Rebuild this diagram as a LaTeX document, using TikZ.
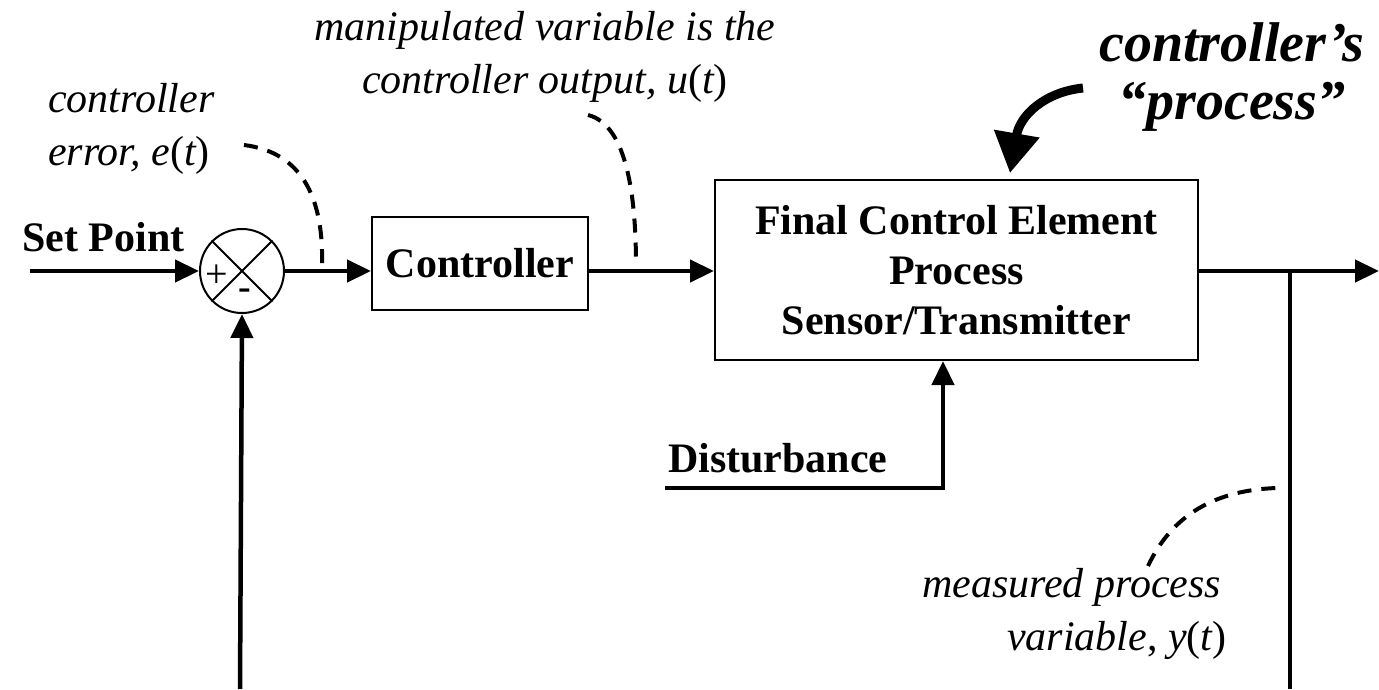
\documentclass[tikz,border=0pt]{standalone}
\usepackage{fontspec}
\setmainfont{Liberation Serif}
\usetikzlibrary{arrows.meta}
\begin{document}
\begin{tikzpicture}[x=1pt,y=-1pt,
  sig/.style={line width=4.5pt,-{Triangle[length=24pt,width=22pt]}},
  plainsig/.style={line width=4.5pt},
  blk/.style={draw,line width=2pt,inner sep=0pt,align=center,
    font=\fontsize{42}{50}\selectfont\bfseries},
  lbl/.style={inner sep=0pt,font=\fontsize{42}{53}\selectfont\itshape},
  bigl/.style={inner sep=0pt,font=\fontsize{56}{58}\selectfont\bfseries\itshape},
  hint/.style={line width=4pt,dash pattern=on 14pt off 10pt}]
\useasboundingbox (0,0) rectangle (1379,689);

% blocks
\node[draw,circle,line width=2pt,minimum size=84pt,inner sep=0pt] (sum) at (242,271) {};
\draw[line width=2pt] (sum.45) -- (sum.225) (sum.135) -- (sum.315);
\node[font=\fontsize{40}{40}\selectfont] (plus) at (217,276) {+};
\node[font=\fontsize{38}{38}\selectfont\bfseries] (minus) at (245,294) {-};

\node[blk,minimum width=216pt,minimum height=93pt] (ctrl) at (480,263.5) {Controller};
\node[blk,minimum width=483pt,minimum height=180pt] (fce) at (956.5,270)
  {Final Control Element\\Process\\Sensor/Transmitter};

% signal labels
\node[font=\fontsize{42}{50}\selectfont\bfseries,anchor=base west,inner sep=0pt] (sp) at (22,251) {Set Point};
\node[font=\fontsize{42}{50}\selectfont\bfseries,anchor=base west,inner sep=0pt] (dist) at (668,472) {Disturbance};

% main signal path
\coordinate (spin) at (30,271);
\draw[sig] (spin) -- (sum.west);
\draw[sig] (sum.east) -- (sum.east -| ctrl.west);
\draw[sig] (ctrl.east |- sum.east) -- (fce.west |- sum.east);
\coordinate (out) at (1379,271);
\draw[sig] (fce.east |- out) -- (out);

% feedback legs
\coordinate (tap) at (1290,271);
\coordinate (tapend) at (1290,689);
\draw[plainsig] (tap) -- (tapend);
\coordinate (fbin) at (240,689);
\draw[sig] (fbin) -- (sum.south);

% disturbance input
\coordinate (dstart) at (665,488);
\coordinate (dcorner) at (943,488);
\draw[sig] (dstart) -- (dcorner) -- (dcorner |- fce.south);

% annotations (base anchor sits on the last line)
\node[lbl,anchor=base west,align=left] (err) at (48,165)
  {controller\\error, \textit{e}{\upshape(}\textit{t}{\upshape)}};
\node[lbl,anchor=base,align=center] (mv) at (545,93)
  {manipulated variable is the\\controller output, \textit{u}{\upshape(}\textit{t}{\upshape)}};
\node[lbl,anchor=base west,align=left] (pv) at (922,650)
  {measured process\\\hspace*{85pt}variable{\upshape,} \textit{y}{\upshape(}\textit{t}{\upshape)}};
\node[bigl,anchor=base,align=center] (cp) at (1232,119)
  {controller’s\\“process”};

% dashed leaders
\coordinate (e1) at (244,145);
\coordinate (e2) at (322,266);
\draw[hint] (e1) .. controls (300,152) and (324,195) .. (e2);
\coordinate (u1) at (588,115);
\coordinate (u2) at (636,266);
\draw[hint] (u1) .. controls (628,125) and (636,200) .. (u2);
\coordinate (y1) at (1148,566);
\coordinate (y2) at (1277,488);
\draw[hint] (y1) .. controls (1172,515) and (1215,490) .. (y2);

% curved pointer onto the process block
\coordinate (c1) at (1083,88);
\coordinate (c2) at (1010,173);
\draw[line width=9pt,-{Triangle[length=40pt,width=44pt]}] (c1) .. controls (1045,92) and (1020,115) .. (c2);
\end{tikzpicture}
\end{document}
